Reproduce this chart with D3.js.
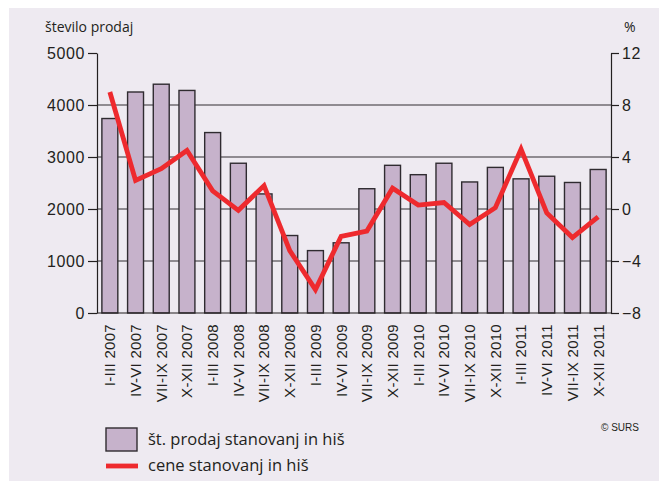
<!DOCTYPE html>
<html>
<head>
<meta charset="utf-8">
<script src="https://cdn.jsdelivr.net/npm/d3@7"></script>
<style>
  html, body { margin: 0; padding: 0; background: #ffffff; }
  svg { display: block; }
  .num { font-family: "Liberation Sans", Arial, sans-serif; font-size: 16px; fill: #231f20; }
  .lab { font-family: "Open Sans", "Noto Sans", sans-serif; fill: #231f20; }
</style>
</head>
<body>
<svg id="chart" width="667" height="485"></svg>
<script>
// Quarterly periods
const categories = [
  "I-III 2007", "IV-VI 2007", "VII-IX 2007", "X-XII 2007",
  "I-III 2008", "IV-VI 2008", "VII-IX 2008", "X-XII 2008",
  "I-III 2009", "IV-VI 2009", "VII-IX 2009", "X-XII 2009",
  "I-III 2010", "IV-VI 2010", "VII-IX 2010", "X-XII 2010",
  "I-III 2011", "IV-VI 2011", "VII-IX 2011", "X-XII 2011"
];
// Number of dwelling sales (left axis)
const sales = [3740, 4250, 4400, 4280, 3470, 2880, 2290, 1490, 1200, 1350,
               2390, 2840, 2660, 2880, 2520, 2800, 2580, 2630, 2510, 2760];
// Dwelling price change in % (right axis)
const prices = [9.0, 2.2, 3.1, 4.5, 1.4, -0.1, 1.8, -3.2, -6.2, -2.1,
                -1.7, 1.6, 0.3, 0.5, -1.2, 0.1, 4.6, -0.3, -2.2, -0.6];
const leftTicks = [0, 1000, 2000, 3000, 4000, 5000];
const rightTicks = [-8, -4, 0, 4, 8, 12];
const gridTicks = [1000, 2000, 3000, 4000];

const svg = d3.select("#chart");

// Background panel
svg.append("rect")
  .attr("x", 9).attr("y", 8).attr("width", 650).attr("height", 473)
  .attr("fill", "#eeeaf1");

const x = d3.scaleBand().domain(categories).range([97, 611])
  .paddingInner(0.38).paddingOuter(0.19);
const yL = d3.scaleLinear().domain([0, 5000]).range([313, 53]);
const yR = d3.scaleLinear().domain([-8, 12]).range([313, 53]);

// Horizontal grid lines
svg.append("g").selectAll("line").data(gridTicks).join("line")
  .attr("x1", 97).attr("x2", 611)
  .attr("y1", d => yL(d)).attr("y2", d => yL(d))
  .attr("stroke", "#6f6b70").attr("stroke-width", 1.4);

// Bars
svg.append("g").selectAll("rect").data(sales).join("rect")
  .attr("x", (d, i) => x(categories[i]))
  .attr("y", d => yL(d))
  .attr("width", x.bandwidth())
  .attr("height", d => yL(0) - yL(d))
  .attr("fill", "#c6b2cb")
  .attr("stroke", "#2f2b30")
  .attr("stroke-width", 1.4);

// Base line
svg.append("line")
  .attr("x1", 97).attr("x2", 611)
  .attr("y1", yL(0)).attr("y2", yL(0))
  .attr("stroke", "#231f20").attr("stroke-width", 1.2);

// Left axis
const gL = svg.append("g").attr("transform", "translate(97,0)")
  .call(d3.axisLeft(yL).tickValues(leftTicks).tickSize(9).tickSizeOuter(0)
    .tickPadding(3).tickFormat(d3.format("d")));
// Right axis
const gR = svg.append("g").attr("transform", "translate(611,0)")
  .call(d3.axisRight(yR).tickValues(rightTicks).tickSize(8).tickSizeOuter(0)
    .tickPadding(3).tickFormat(d3.format("d")));
[gL, gR].forEach(g => {
  g.selectAll("path, line").attr("stroke", "#231f20").attr("stroke-width", 1.2);
  g.selectAll("text").attr("class", "num").attr("font-family", null).attr("font-size", null)
    .attr("fill", null).style("letter-spacing", "0.6px");
});

// Category labels
const gX = svg.append("g").attr("transform", "translate(0,313)")
  .call(d3.axisBottom(x).tickSize(0).tickPadding(0));
gX.select(".domain").remove();
gX.selectAll("text")
  .attr("font-family", null).attr("font-size", null).attr("fill", null)
  .attr("class", "num")
  .style("font-size", "15px")
  .style("letter-spacing", "0.3px")
  .attr("text-anchor", "end")
  .attr("transform", "rotate(-90)")
  .attr("x", -11).attr("y", 0).attr("dy", "0.36em");

// Price line
const line = d3.line()
  .x((d, i) => x(categories[i]) + x.bandwidth() / 2)
  .y(d => yR(d));
svg.append("path").datum(prices)
  .attr("d", line)
  .attr("fill", "none")
  .attr("stroke", "#ee2a2e")
  .attr("stroke-width", 4.8)
  .attr("stroke-linejoin", "miter")
  .attr("stroke-miterlimit", 10);

// Axis titles
svg.append("text").attr("class", "lab").attr("x", 45).attr("y", 32)
  .style("font-size", "14px").text("število prodaj");
svg.append("text").attr("class", "lab").attr("x", 624).attr("y", 32)
  .style("font-size", "14px").text("%");

// Legend
svg.append("rect").attr("x", 106).attr("y", 428).attr("width", 31).attr("height", 23)
  .attr("fill", "#c6b2cb").attr("stroke", "#2f2b30").attr("stroke-width", 1.4);
svg.append("text").attr("class", "lab").attr("x", 148).attr("y", 445)
  .style("font-size", "16.5px").text("št. prodaj stanovanj in hiš");
svg.append("line").attr("x1", 106).attr("x2", 138).attr("y1", 466).attr("y2", 466)
  .attr("stroke", "#ee2a2e").attr("stroke-width", 4.8);
svg.append("text").attr("class", "lab").attr("x", 148).attr("y", 471)
  .style("font-size", "16.5px").text("cene stanovanj in hiš");

// Source note
svg.append("text").attr("class", "num").attr("x", 601).attr("y", 431)
  .style("font-size", "10px").text("© SURS");
</script>
</body>
</html>
